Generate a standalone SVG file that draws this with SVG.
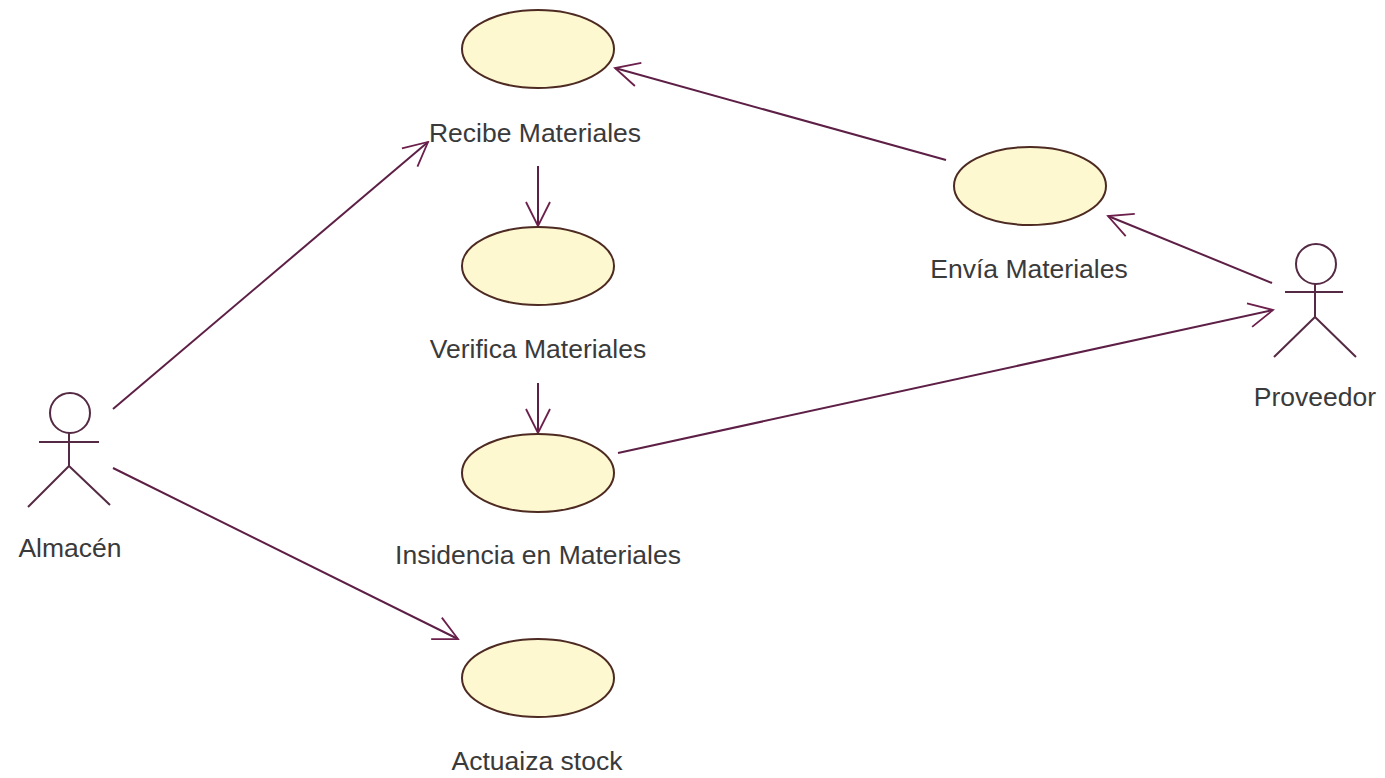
<svg xmlns="http://www.w3.org/2000/svg" width="1385" height="778" viewBox="0 0 1385 778">
<defs>
<marker id="open" viewBox="0 0 30 28" refX="28" refY="14" markerWidth="30" markerHeight="28" markerUnits="userSpaceOnUse" orient="auto">
<path d="M4 2 L28 14 L4 26" fill="none" stroke="#6b1f4a" stroke-width="1.8"/>
</marker>
</defs>
<style>
.uc{fill:#fdf8cf;stroke:#4d2a22;stroke-width:2}
.act{fill:none;stroke:#552a44;stroke-width:2}
.con{fill:none;stroke:#5d1f45;stroke-width:2;marker-end:url(#open)}
text{font-family:"Liberation Sans",Arial,sans-serif;font-size:26.5px;fill:#3a3a3a;text-anchor:middle}
</style>
<rect width="1385" height="778" fill="#ffffff"/>
<g id="connectors">
<path class="con" d="M113 409 L428 142"/>
<path class="con" d="M113 468 L458 639"/>
<path class="con" d="M538 166 L538 226"/>
<path class="con" d="M538 383 L538 433"/>
<path class="con" d="M946 160 L615 68"/>
<path class="con" d="M1272 283 L1108 216"/>
<path class="con" d="M618 453 L1273 310"/>
</g>
<g id="recibe"><ellipse class="uc" cx="538" cy="49" rx="76" ry="39"/><text x="535" y="142">Recibe Materiales</text></g>
<g id="verifica"><ellipse class="uc" cx="538" cy="266" rx="76" ry="39"/><text x="538" y="358">Verifica Materiales</text></g>
<g id="insidencia"><ellipse class="uc" cx="538" cy="473" rx="76" ry="39"/><text x="538" y="564">Insidencia en Materiales</text></g>
<g id="actualiza"><ellipse class="uc" cx="538" cy="678" rx="76" ry="39"/><text x="537" y="770">Actuaiza stock</text></g>
<g id="envia"><ellipse class="uc" cx="1030" cy="186" rx="76" ry="39"/><text x="1029" y="278">Envía Materiales</text></g>
<g id="almacen">
<circle class="act" cx="70" cy="413" r="20"/>
<path class="act" d="M69 432 V466 M39 442 H99 M69 466 L28 507 M69 466 L110 505"/>
<text x="70" y="557">Almacén</text>
</g>
<g id="proveedor">
<circle class="act" cx="1316" cy="264" r="20"/>
<path class="act" d="M1315 283 V317 M1285 292 H1343 M1315 317 L1274 357 M1315 317 L1356 357"/>
<text x="1315" y="406">Proveedor</text>
</g>
</svg>
